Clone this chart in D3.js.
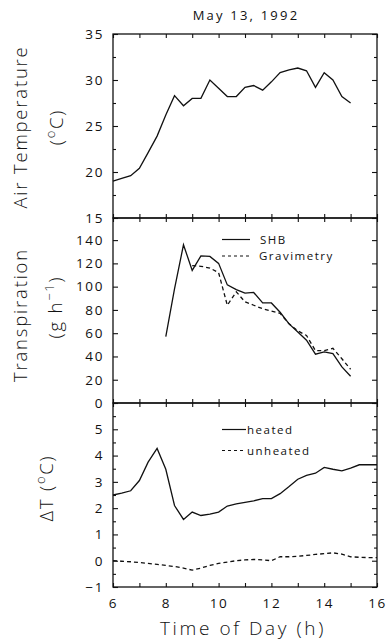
<!DOCTYPE html>
<html><head><meta charset="utf-8">
<script src="https://cdn.jsdelivr.net/npm/d3@7/dist/d3.min.js"></script>
<style>
body{margin:0;background:#fff;}
svg text{font-family:"Open Sans","DejaVu Sans",sans-serif;fill:#111;}
</style></head><body>
<svg id="c" width="387" height="642"></svg>
<script>
// ---------- data ----------
const title = "May 13, 1992";
const xTicks = [6, 8, 10, 12, 14, 16];

// Air temperature (°C)
const airTime = [6.0,6.33,6.67,7.0,7.33,7.67,8.0,8.33,8.67,9.0,9.33,9.67,10.0,10.33,10.67,11.0,11.33,11.67,12.0,12.33,12.67,13.0,13.33,13.67,14.0,14.33,14.67,15.0];
const airTemp = [19.0,19.3,19.6,20.4,22.1,23.9,26.2,28.3,27.2,28.0,28.0,30.0,29.1,28.2,28.2,29.2,29.4,28.9,29.8,30.8,31.1,31.3,31.0,29.2,30.8,30.0,28.2,27.5];
const airTicks = [15, 20, 25, 30, 35];

// Transpiration (g h-1)
const shbTime = [8.0,8.33,8.67,9.0,9.33,9.67,10.0,10.33,10.67,11.0,11.33,11.67,12.0,12.33,12.67,13.0,13.33,13.67,14.0,14.33,14.67,15.0];
const shbVal  = [57,98,136,114,126.5,126,120,101.5,97.5,94.5,95,86,86,78,68,61,54,42,44,42.5,31,23];
const gravTime = [9.0,9.33,9.67,10.0,10.33,10.67,11.0,11.33,11.67,12.0,12.33,12.67,13.0,13.33,13.67,14.0,14.33,14.67,15.0];
const gravVal  = [118,117.5,116,112,84,95.5,87,84,81,79,77,68,62,58,45,45,47,38,29];
const trTicks = [0, 20, 40, 60, 80, 100, 120, 140];

// Delta T (°C)
const dtTime = [6.0,6.33,6.67,7.0,7.33,7.67,8.0,8.33,8.67,9.0,9.33,9.67,10.0,10.33,10.67,11.0,11.33,11.67,12.0,12.33,12.67,13.0,13.33,13.67,14.0,14.33,14.67,15.0,15.33,15.67,16.0];
const heated   = [2.5,2.57,2.66,3.05,3.75,4.27,3.48,2.1,1.57,1.85,1.72,1.77,1.85,2.08,2.16,2.22,2.28,2.36,2.36,2.55,2.82,3.1,3.25,3.33,3.55,3.48,3.42,3.52,3.65,3.65,3.65];
const unheated = [0.0,-0.02,-0.04,-0.07,-0.1,-0.14,-0.18,-0.22,-0.28,-0.36,-0.28,-0.18,-0.1,-0.05,0.0,0.03,0.05,0.03,0.0,0.15,0.15,0.17,0.2,0.24,0.27,0.3,0.25,0.15,0.13,0.12,0.12];
const dtTicks = [-1, 0, 1, 2, 3, 4, 5];

// ---------- layout ----------
const L = 113, R = 377;
const panels = [
  {top: 34, bot: 218, domain: [15, 35], ticks: airTicks, minor: 2.5},
  {top: 218, bot: 403, domain: [0, 159], ticks: trTicks, minor: null},
  {top: 403, bot: 587, domain: [-1, 6], ticks: dtTicks, minor: 0.5}
];
const svg = d3.select("#c");
const x = d3.scaleLinear().domain([6, 16]).range([L, R]);
const hourTicks = d3.range(6, 17, 1);

panels.forEach(p => {
  p.y = d3.scaleLinear().domain(p.domain).range([p.bot, p.top]);
  if (p.minor) {
    const mt = d3.range(p.domain[0], p.domain[1] + 1e-9, p.minor).filter(v => !p.ticks.includes(v));
    svg.append("g").attr("transform", `translate(${L},0)`)
      .call(d3.axisLeft(p.y).tickValues(mt).tickSize(-3).tickFormat(""))
      .call(g => g.select(".domain").remove());
    svg.append("g").attr("transform", `translate(${R},0)`)
      .call(d3.axisRight(p.y).tickValues(mt).tickSize(-3).tickFormat(""))
      .call(g => g.select(".domain").remove());
  }
  svg.append("g").attr("class", "yax").attr("transform", `translate(${L},0)`)
    .call(d3.axisLeft(p.y).tickValues(p.ticks).tickSize(-5).tickPadding(9).tickFormat(d3.format("d")))
    .call(g => g.select(".domain").remove());
  svg.append("g").attr("transform", `translate(${R},0)`)
    .call(d3.axisRight(p.y).tickValues(p.ticks).tickSize(-5).tickFormat(""))
    .call(g => g.select(".domain").remove());
  svg.append("g").attr("transform", `translate(0,${p.top})`)
    .call(d3.axisTop(x).tickValues(hourTicks).tickSize(-4).tickFormat(""))
    .call(g => g.select(".domain").remove());
  svg.append("g").attr("transform", `translate(0,${p.bot})`)
    .call(d3.axisBottom(x).tickValues(hourTicks).tickSize(-4).tickFormat(""))
    .call(g => g.select(".domain").remove());
  svg.append("rect").attr("x", L).attr("y", p.top).attr("width", R - L).attr("height", p.bot - p.top)
    .attr("fill", "none").attr("stroke", "#111").attr("stroke-width", 1.3);
});

svg.append("g").attr("class", "xax").attr("transform", `translate(0,${panels[2].bot})`)
  .call(d3.axisBottom(x).tickValues(xTicks).tickSize(0).tickPadding(11).tickFormat(d3.format("d")))
  .call(g => g.select(".domain").remove());

svg.selectAll(".tick line").attr("stroke", "#111").attr("stroke-width", 1.1);
svg.selectAll(".yax text, .xax text").attr("font-size", 13.5).attr("fill", "#111")
  .attr("letter-spacing", 1.6).style("font-family", '"Open Sans","DejaVu Sans",sans-serif');

// ---------- lines ----------
function drawLine(p, ts, vs, dash) {
  const line = d3.line().x((d, i) => x(ts[i])).y(d => p.y(d));
  svg.append("path").datum(vs).attr("d", line).attr("fill", "none")
    .attr("stroke", "#111").attr("stroke-width", 1.3)
    .attr("stroke-dasharray", dash ? "4,3" : null);
}
drawLine(panels[0], airTime, airTemp, false);
drawLine(panels[1], shbTime, shbVal, false);
drawLine(panels[1], gravTime, gravVal, true);
drawLine(panels[2], dtTime, heated, false);
drawLine(panels[2], dtTime, unheated, true);

// ---------- legends ----------
function legendItem(x1, x2, y, dash, label, tx) {
  svg.append("line").attr("x1", x1).attr("x2", x2).attr("y1", y).attr("y2", y)
    .attr("stroke", "#111").attr("stroke-width", 1.2).attr("stroke-dasharray", dash ? "3,3" : null);
  svg.append("text").attr("x", tx).attr("y", y + 4).attr("font-size", 11.5).attr("letter-spacing", 1.5).text(label);
}
legendItem(222, 250, 239.5, false, "SHB", 260);
legendItem(222, 250, 256, true, "Gravimetry", 259);
legendItem(222, 246, 429.5, false, "heated", 247);
legendItem(222, 246, 450.5, true, "unheated", 247);

// ---------- titles ----------
svg.append("text").attr("x", 246).attr("y", 20).attr("text-anchor", "middle")
  .attr("font-size", 13).attr("letter-spacing", 2.2).text(title);

svg.append("text").attr("x", (L + R) / 2 - 2).attr("y", 635).attr("text-anchor", "middle")
  .attr("font-size", 19).attr("letter-spacing", 2.6).attr("font-weight", 300).text("Time of Day (h)");

function vlabel(cx, cy, parts, size) {
  const t = svg.append("text").attr("transform", `translate(${cx},${cy}) rotate(-90)`)
    .attr("text-anchor", "middle").attr("font-size", size).attr("letter-spacing", 1.8).attr("font-weight", 300);
  parts.forEach(pt => {
    const s = t.append("tspan").text(pt.t);
    if (pt.sup) s.attr("font-size", size * 0.7).attr("dy", -size * 0.45);
    if (pt.down) s.attr("dy", size * 0.45);
  });
}
vlabel(27, 127, [{t: "Air Temperature"}], 18.5);
vlabel(63, 127, [{t: "("}, {t: "o", sup: true}, {t: "C)", down: true}], 18.5);
vlabel(27, 315, [{t: "Transpiration"}], 18.5);
vlabel(62, 307, [{t: "(g h"}, {t: "−1", sup: true}, {t: ")", down: true}], 18.5);
vlabel(53, 488, [{t: "ΔT ("}, {t: "o", sup: true}, {t: "C)", down: true}], 18.5);
</script>
</body></html>
